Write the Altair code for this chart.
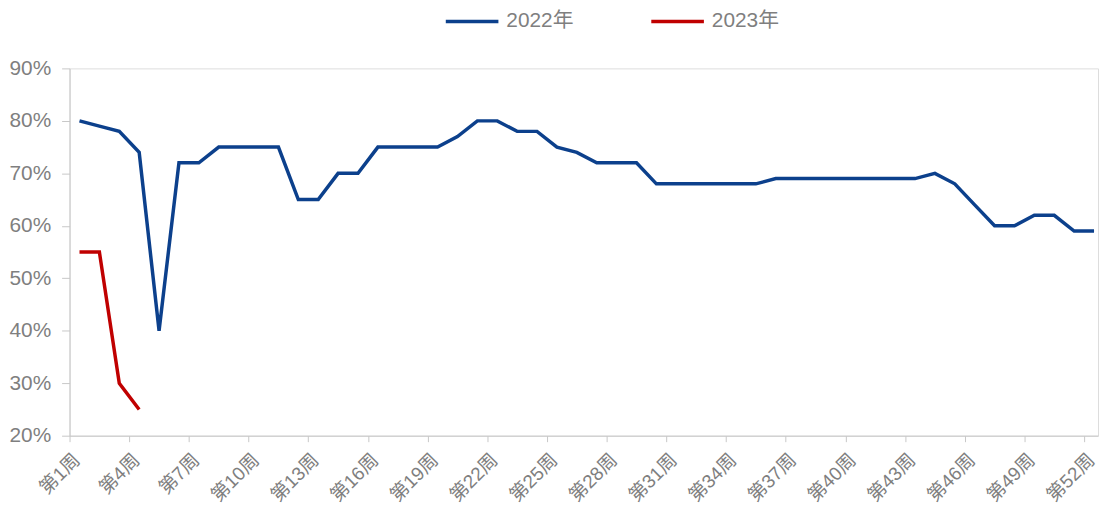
import altair as alt
import pandas as pd

# ---- data ----
weeks = list(range(1, 53))
rate_2022 = [80, 79, 78, 74, 40, 72, 72, 75, 75, 75, 75, 65, 65, 70, 70, 75, 75, 75, 75, 77,
             80, 80, 78, 78, 75, 74, 72, 72, 72, 68, 68, 68, 68, 68, 68, 69, 69, 69, 69, 69,
             69, 69, 69, 70, 68, 64, 60, 60, 62, 62, 59, 59]
weeks_2023 = [1, 2, 3, 4]
rate_2023 = [55, 55, 30, 25]
series_names = ["2022年", "2023年"]
series_colors = ["#0c408c", "#c00000"]
tick_weeks = list(range(1, 53, 3))          # 第1周, 第4周, ... 第52周
y_ticks = [0.2, 0.3, 0.4, 0.5, 0.6, 0.7, 0.8, 0.9]

rows = []
for w, v in zip(weeks, rate_2022):
    rows.append({"week": w, "rate": v / 100, "series": series_names[0]})
for w, v in zip(weeks_2023, rate_2023):
    rows.append({"week": w, "rate": v / 100, "series": series_names[1]})
df = pd.DataFrame(rows)

FONT = "Liberation Sans, Noto Sans CJK SC, sans-serif"
GRAY = "#7f7f7f"
AXIS = "#c8c8c8"

x_axis = alt.Axis(
    values=[w - 0.5 for w in tick_weeks],
    labelExpr="'第' + (datum.value + 0.5) + '周'",
    labelAngle=-45, labelAlign="right", labelBaseline="middle",
    labelOffset=7, labelPadding=15, labelFlush=False, labelOverlap=False,
    labelFontSize=19, labelColor=GRAY, labelFont=FONT,
    tickSize=6, tickColor=AXIS, domainColor=AXIS, grid=False, title=None,
)
y_axis = alt.Axis(
    values=y_ticks, format=".0%",
    labelFontSize=21, labelColor=GRAY, labelFont=FONT, labelPadding=11,
    tickSize=8, tickColor=AXIS, domainColor=AXIS, grid=False, title=None,
)

chart = alt.Chart(df).mark_line(strokeWidth=3.5).encode(
    x=alt.X("week:Q", scale=alt.Scale(domain=[0.5, 52.2], nice=False, zero=False), axis=x_axis),
    y=alt.Y("rate:Q", scale=alt.Scale(domain=[0.2, 0.9], nice=False, zero=False), axis=y_axis),
    color=alt.Color(
        "series:N",
        scale=alt.Scale(domain=series_names, range=series_colors),
        legend=alt.Legend(
            orient="none", direction="horizontal", legendX=377, legendY=-76,
            title=None, symbolType="stroke", symbolSize=2809, symbolStrokeWidth=3.5,
            labelFontSize=21, labelColor=GRAY, labelFont=FONT, labelOffset=6,
            columnPadding=71,
        ),
    ),
    order="week:Q",
).properties(
    width=1036, height=370,
    autosize=alt.AutoSizeParams(type="none"),
    padding={"left": 62, "top": 59, "right": 2, "bottom": 73},
).configure_view(stroke=None).configure(font=FONT, background="white")

chart.save("out.html", embed_options={"renderer": "svg", "actions": False})
